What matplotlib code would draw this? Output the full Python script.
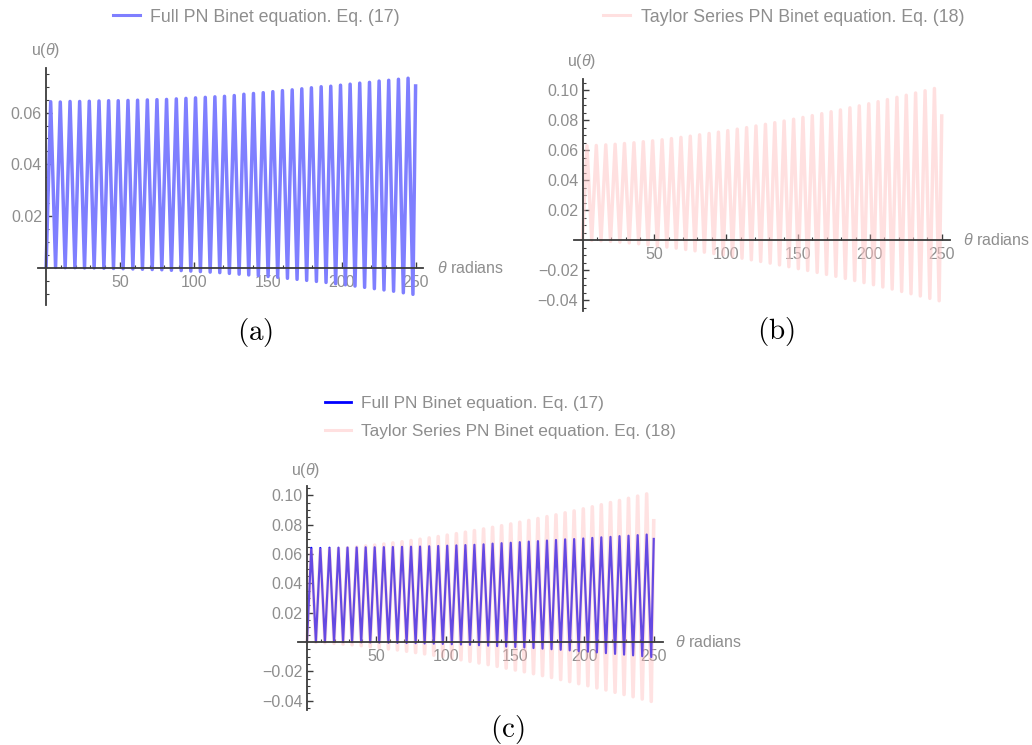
import numpy as np
import matplotlib
matplotlib.use("Agg")
import matplotlib.pyplot as plt
from matplotlib.lines import Line2D
from matplotlib.ticker import FixedLocator, FixedFormatter

plt.rcParams['font.family'] = ['Liberation Sans', 'DejaVu Sans']
plt.rcParams['mathtext.fontset'] = 'custom'
plt.rcParams['mathtext.rm'] = 'Liberation Sans'
plt.rcParams['mathtext.it'] = 'Liberation Sans:italic'

# ------------------------------
# data: extremes of each orbit
# ------------------------------
theta_peaks = [3.1, 9.6, 16.2, 22.7, 29.2, 35.8, 42.3, 48.8, 55.4, 61.9,
               68.5, 75.0, 81.5, 88.1, 94.6, 101.1, 107.7, 114.2, 120.7, 127.3,
               133.8, 140.3, 146.9, 153.4, 159.9, 166.5, 173.0, 179.5, 186.1, 192.6,
               199.2, 205.7, 212.2, 218.8, 225.3, 231.8, 238.4, 244.9]
theta_troughs = [6.4, 12.9, 19.5, 26.0, 32.5, 39.1, 45.6, 52.1, 58.7, 65.2,
                 71.8, 78.3, 84.8, 91.4, 97.9, 104.4, 111.0, 117.5, 124.0, 130.6,
                 137.1, 143.6, 150.2, 156.7, 163.3, 169.8, 176.3, 182.9, 189.4, 195.9,
                 202.5, 209.0, 215.5, 222.1, 228.6, 235.1, 241.7, 248.2]

# Full PN Binet equation, Eq. (17)
full_peaks = [0.0642, 0.0641, 0.0643, 0.0643, 0.0644, 0.0645, 0.0646, 0.0646, 0.0647, 0.0648,
              0.0649, 0.0650, 0.0651, 0.0653, 0.0655, 0.0657, 0.0659, 0.0661, 0.0663, 0.0666,
              0.0671, 0.0674, 0.0677, 0.0681, 0.0685, 0.0688, 0.0692, 0.0696, 0.0700, 0.0702,
              0.0706, 0.0710, 0.0714, 0.0717, 0.0722, 0.0725, 0.0729, 0.0733]
full_troughs = [0.0001, 0.0000, 0.0000, -0.0001, -0.0001, -0.0002, -0.0003, -0.0004, -0.0005, -0.0006,
                -0.0007, -0.0008, -0.0010, -0.0011, -0.0013, -0.0015, -0.0017, -0.0019, -0.0022, -0.0025,
                -0.0028, -0.0031, -0.0034, -0.0037, -0.0041, -0.0045, -0.0049, -0.0053, -0.0057, -0.0062,
                -0.0066, -0.0071, -0.0076, -0.0081, -0.0086, -0.0091, -0.0097, -0.0103]
full_start, full_end = 0.0003, 0.0703

# Taylor Series PN Binet equation, Eq. (18)
taylor_peaks = [0.0628, 0.0630, 0.0634, 0.0638, 0.0643, 0.0648, 0.0655, 0.0661, 0.0668, 0.0676,
                0.0684, 0.0692, 0.0701, 0.0710, 0.0719, 0.0729, 0.0739, 0.0749, 0.0760, 0.0771,
                0.0782, 0.0793, 0.0805, 0.0817, 0.0829, 0.0842, 0.0855, 0.0867, 0.0881, 0.0894,
                0.0908, 0.0922, 0.0936, 0.0951, 0.0965, 0.0980, 0.0995, 0.1010]
taylor_troughs = [-0.0002, -0.0005, -0.0009, -0.0014, -0.0019, -0.0025, -0.0032, -0.0039, -0.0047, -0.0054,
                  -0.0063, -0.0072, -0.0081, -0.0090, -0.0100, -0.0110, -0.0121, -0.0132, -0.0143, -0.0154,
                  -0.0166, -0.0178, -0.0191, -0.0203, -0.0216, -0.0229, -0.0242, -0.0256, -0.0270, -0.0284,
                  -0.0298, -0.0313, -0.0327, -0.0343, -0.0358, -0.0373, -0.0389, -0.0405]
taylor_start, taylor_end = 0.0003, 0.0827

theta_start, theta_end = 0, 250

x_ticks = [50, 100, 150, 200, 250]
x_minor = [10, 20, 30, 40, 60, 70, 80, 90, 110, 120, 130, 140, 160, 170, 180, 190,
           210, 220, 230, 240]
y_ticks_a = [0.02, 0.04, 0.06]
y_labels_a = ['0.02', '0.04', '0.06']
y_ticks_bc = [-0.04, -0.02, 0.02, 0.04, 0.06, 0.08, 0.10]
y_labels_bc = ['\u22120.04', '\u22120.02', '0.02', '0.04', '0.06', '0.08', '0.10']
y_minor_a = [-0.01, -0.005, 0.005, 0.01, 0.015, 0.025, 0.03, 0.035, 0.045, 0.05, 0.055,
             0.065, 0.07, 0.075]
y_minor_bc = [-0.045, -0.035, -0.03, -0.025, -0.015, -0.01, -0.005, 0.005, 0.01, 0.015,
              0.025, 0.03, 0.035, 0.045, 0.05, 0.055, 0.065, 0.07, 0.075, 0.085, 0.09,
              0.095, 0.105]

label_full = 'Full PN Binet equation. Eq. (17)'
label_taylor = 'Taylor Series PN Binet equation. Eq. (18)'

GRAY = '#8e8e8e'
AXC = '#3c3c3c'
BLUE_A = '#7f7fff'
BLUE_C = '#0000ff'
PINK = '#ffc8c8'
PINK_ALPHA = 0.55
PINK_C = '#ffb8b8'
PINK_C_ALPHA = 0.4


def curve(start, peaks, troughs, end):
    th = [theta_start]
    u = [start]
    for tp, p, tt, t in zip(theta_peaks, peaks, theta_troughs, troughs):
        th += [tp, tt]
        u += [p, t]
    th.append(theta_end)
    u.append(end)
    return th, u


W, H = 1032, 745
fig = plt.figure(figsize=(W / 100, H / 100), dpi=100)


def make_axes(box, x0, xscale, y0, yscale, yticks, ylabels, yminor):
    # box in pixels: left, top, right, bottom; x0/y0 = pixel of the origin
    l, t, r, b = box
    ax = fig.add_axes([l / W, 1 - b / H, (r - l) / W, (b - t) / H])
    ax.set_xlim((l - x0) / xscale, (r - x0) / xscale)
    ax.set_ylim((y0 - b) / yscale, (y0 - t) / yscale)
    ax.patch.set_alpha(0)
    for s in ['top', 'right']:
        ax.spines[s].set_visible(False)
    for s in ['left', 'bottom']:
        ax.spines[s].set_position(('data', 0))
        ax.spines[s].set_color(AXC)
        ax.spines[s].set_linewidth(1.3)
    ax.xaxis.set_major_locator(FixedLocator(x_ticks))
    ax.xaxis.set_major_formatter(FixedFormatter([str(v) for v in x_ticks]))
    ax.xaxis.set_minor_locator(FixedLocator(x_minor))
    ax.yaxis.set_major_locator(FixedLocator(yticks))
    ax.yaxis.set_major_formatter(FixedFormatter(ylabels))
    ax.yaxis.set_minor_locator(FixedLocator(yminor))
    ax.tick_params(which='both', direction='in', color=AXC, labelcolor=GRAY,
                   labelsize=11.5)
    ax.tick_params(which='major', length=4, width=1.0)
    ax.tick_params(which='minor', length=2.5, width=0.8)
    ax.tick_params(axis='x', pad=5)
    ax.tick_params(axis='y', pad=3)
    return ax


def px_text(x, y, s, **kw):
    return fig.text(x / W, 1 - y / H, s, **kw)


th_full, u_full = curve(full_start, full_peaks, full_troughs, full_end)
th_tay, u_tay = curve(taylor_start, taylor_peaks, taylor_troughs, taylor_end)

# ------------------------------
# (a) full PN
# ------------------------------
ax_a = make_axes((38.3, 68, 423.3, 305), 46.1, 1.478, 267.7, 2585,
                 y_ticks_a, y_labels_a, y_minor_a)
ax_a.plot(th_full, u_full, color=BLUE_A, lw=2.5, solid_joinstyle='round')
ax_a.legend([Line2D([], [], color=BLUE_A, lw=2.2)], [label_full], loc='center',
            bbox_to_anchor=(256.5 / W, 1 - 17 / H), bbox_transform=fig.transFigure,
            frameon=False, fontsize=12.8, labelcolor=GRAY, handlelength=1.5,
            handletextpad=0.6)
px_text(45.8, 50, r'u($\theta$)', ha='center', va='center', color=GRAY, fontsize=11.5)
px_text(436.7, 267.7, r'$\theta$ radians', ha='left', va='center', color=GRAY, fontsize=11.5)
px_text(255, 333, r'$\mathrm{(a)}$', ha='center', va='center', fontsize=21,
        math_fontfamily='cm')

# ------------------------------
# (b) Taylor series PN
# ------------------------------
ax_b = make_axes((574.3, 79.3, 950, 310.7), 582.5, 1.437, 240, 1500,
                 y_ticks_bc, y_labels_bc, y_minor_bc)
ax_b.plot(th_tay, u_tay, color=PINK, alpha=PINK_ALPHA, lw=2.5, solid_joinstyle='round')
ax_b.legend([Line2D([], [], color=PINK, alpha=PINK_ALPHA, lw=2.2)], [label_taylor],
            loc='center', bbox_to_anchor=(783.9 / W, 1 - 17 / H),
            bbox_transform=fig.transFigure, frameon=False, fontsize=12.8,
            labelcolor=GRAY, handlelength=1.5, handletextpad=0.6)
px_text(581.7, 61.7, r'u($\theta$)', ha='center', va='center', color=GRAY, fontsize=11.5)
px_text(962.7, 240, r'$\theta$ radians', ha='left', va='center', color=GRAY, fontsize=11.5)
px_text(776, 332, r'$\mathrm{(b)}$', ha='center', va='center', fontsize=21,
        math_fontfamily='cm')

# ------------------------------
# (c) both together
# ------------------------------
ax_c = make_axes((298.3, 486, 662.7, 710), 307, 1.387, 642, 1466,
                 y_ticks_bc, y_labels_bc, y_minor_bc)
ax_c.plot(th_full, u_full, color=BLUE_C, lw=1.6, solid_joinstyle='round')
ax_c.plot(th_tay, u_tay, color=PINK_C, alpha=PINK_C_ALPHA, lw=2.6, solid_joinstyle='round')
ax_c.legend([Line2D([], [], color=BLUE_C, lw=2.0),
             Line2D([], [], color=PINK, alpha=PINK_ALPHA, lw=2.2)],
            [label_full, label_taylor], loc='center',
            bbox_to_anchor=(500.8 / W, 1 - 417.7 / H), bbox_transform=fig.transFigure,
            frameon=False, fontsize=12.4, labelcolor=GRAY, handlelength=1.5,
            handletextpad=0.6, labelspacing=0.75)
px_text(305.8, 470.7, r'u($\theta$)', ha='center', va='center', color=GRAY, fontsize=11.5)
px_text(675, 642, r'$\theta$ radians', ha='left', va='center', color=GRAY, fontsize=11.5)
px_text(507, 730, r'$\mathrm{(c)}$', ha='center', va='center', fontsize=21,
        math_fontfamily='cm')

fig.savefig('out.png', dpi=100)
